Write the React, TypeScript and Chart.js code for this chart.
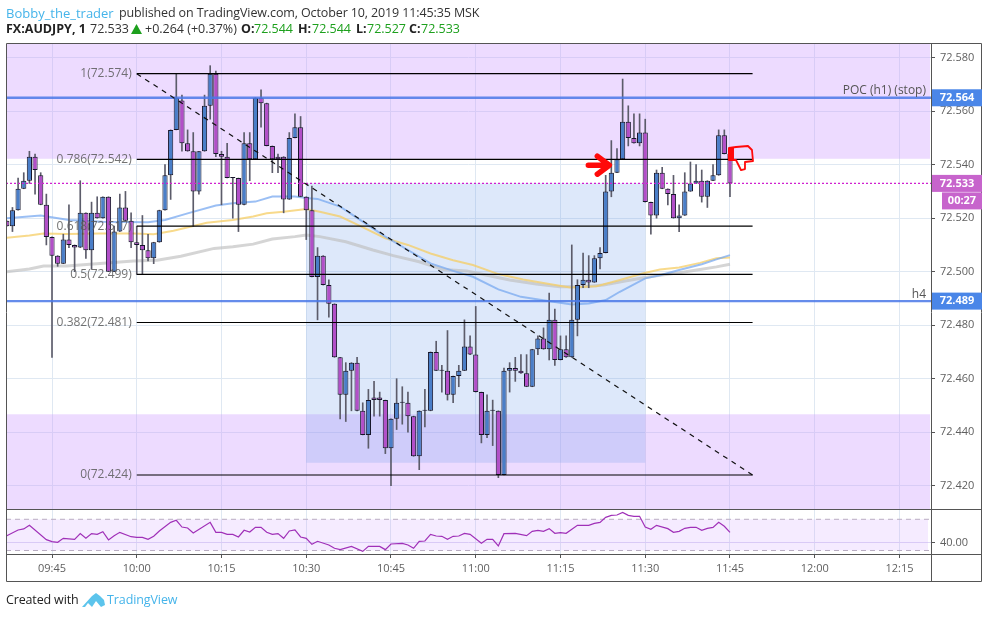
import React, { useEffect, useRef } from "react";
import { Chart, registerables } from "chart.js";

Chart.register(...registerables);

const FONT = "'Open Sans', 'Noto Sans', sans-serif";

// One-minute candles, first at 09:37; prices are 72 + value / 1000
const firstCandleMinute = 577;
const opensMilli = [519,517,523,531,534,543,536,525,513,506,503,512,510,509,522,508,522,520,528,500,515,524,519,511,510,508,505,511,523,536,553,564,548,545,530,545,562,574,544,543,535,535,525,548,542,565,563,547,543,543,527,550,554,528,523,498,506,495,488,468,454,463,466,448,439,453,453,452,434,445,451,451,446,431,448,448,470,463,463,454,461,463,472,469,455,439,448,448,424,463,464,463,462,457,471,475,471,482,467,471,468,482,495,497,496,505,507,530,537,542,556,550,548,552,526,521,537,531,529,520,521,530,533,534,528,534,536,551,544];
const highsMilli = [519,524,535,537,545,544,537,529,513,506,514,525,510,534,522,526,528,528,528,517,529,530,522,517,521,514,511,523,540,553,574,566,553,552,545,566,577,575,545,548,535,535,552,552,565,568,563,547,544,543,552,559,558,528,532,509,506,497,488,468,466,466,468,451,456,459,455,452,445,460,457,455,446,448,456,470,474,465,478,461,465,482,476,487,455,454,452,448,464,466,468,469,469,471,476,479,492,486,476,476,510,497,507,506,506,509,536,549,546,572,562,559,559,557,526,538,539,531,536,525,537,541,540,538,534,540,553,553,544];
const lowsMilli = [517,515,523,531,533,529,525,510,468,502,503,509,500,509,505,501,520,520,500,500,515,519,509,499,499,504,503,511,523,527,553,545,545,517,529,545,557,543,525,535,520,515,525,534,542,554,547,537,537,522,527,550,528,512,498,482,495,483,468,445,444,448,448,439,434,446,446,432,420,441,443,440,431,426,442,448,463,455,452,451,457,463,469,455,436,438,435,423,424,455,459,462,457,457,469,471,467,465,467,468,468,476,494,494,496,501,507,528,537,542,547,548,547,526,514,520,531,525,520,515,521,530,533,526,524,534,536,544,528];
const closesMilli = [517,523,531,534,543,538,525,513,506,503,512,510,509,522,508,522,520,528,500,515,524,519,511,510,508,505,511,523,536,553,565,548,545,530,545,562,574,544,543,535,535,525,548,542,565,563,547,542,542,527,550,554,528,523,498,506,495,488,468,454,463,466,448,439,452,452,452,434,445,451,451,446,431,448,448,470,463,463,454,461,463,472,469,455,439,448,448,424,463,464,463,462,457,471,475,471,482,467,471,468,482,495,497,496,505,507,530,537,542,556,550,548,552,526,521,537,531,529,520,521,530,533,534,528,534,536,551,544,533];

// Moving averages: minute, price
const maBlueMinutes = [577,583,588,594,602,605,609,614,617,621,624,628,630,632,636,640,644,648,652,656,659.5,664,668,672.5,677,680,683,685.5,690,692.6,696,700,702.6,705];
const maBluePrices = [72.52,72.521,72.5193,72.5187,72.5185,72.5193,72.5218,72.5247,72.5256,72.5262,72.5281,72.5281,72.5275,72.5272,72.5243,72.5187,72.5131,72.5081,72.5031,72.5003,72.4981,72.4934,72.4906,72.4891,72.4877,72.4881,72.4894,72.4925,72.4975,72.4987,72.5006,72.5028,72.5046,72.5062];
const maYellowMinutes = [577,581,583.5,587.6,593.5,599.4,603,606.5,612.4,617,620.6,623,626,630,632.4,636,639.5,644,648,652,656,659.5,664,668.4,672.5,676.7,681.4,685.5,689.7,692.6,696,699.7,702.6,705];
const maYellowPrices = [72.5127,72.5135,72.5143,72.5141,72.5143,72.5143,72.514,72.5153,72.5183,72.5193,72.5206,72.5218,72.5224,72.5234,72.5224,72.5206,72.5171,72.5125,72.51,72.5068,72.5043,72.5025,72.4991,72.4971,72.4956,72.4941,72.4946,72.4969,72.4994,72.5008,72.5016,72.5033,72.505,72.5053];
const maGrayMinutes = [577,581,583.5,587.6,593.5,599.4,603.6,607.8,613.7,617,620.6,624,628,630,632.4,637,641.8,645.4,650,654.2,658.4,662,666,670.7,674.9,679,682.6,686.7,690.3,692.6,696,699.7,702.6,705];
const maGrayPrices = [72.5,72.501,72.5021,72.5021,72.5031,72.504,72.5043,72.5058,72.5087,72.5093,72.5103,72.5122,72.5131,72.5137,72.5131,72.5112,72.5081,72.506,72.5037,72.5008,72.5003,72.4987,72.4969,72.4954,72.4944,72.4944,72.495,72.4966,72.4979,72.4987,72.4996,72.5008,72.5018,72.5028];

// RSI study
const rsiMinutes = [577,579,580,581,584,585,586,587,589,590,591,592,593,594,595,596,597,599,600,601,602,603,604,606,607,608,609,610,613,614,615,616,617,618,619,620,621,622,623,624,625,626,627,628,629,630,631,632,634,635,636,638,640,641,643,644,645,647,648,649,650,651,652,653,654,655,656,657,658,659,661,662,663,664,665,667,669,670,671,672,673,674,675,676,678,680,681,682,683,684,685,686,687,688,689,690,691,692,694,695,696,697,698,699,700,701,702,703,704,705];
const rsiValues = [49,56.3,57.6,62.3,43.9,41.3,40.5,45.6,44.3,51.6,45.6,51.6,50.7,54.1,43.5,49,53.3,47.7,46.9,46.9,44.3,48.2,55,66.1,68.7,60.1,58.8,52.4,66.1,53.3,53.3,50.7,50.7,47.3,55.9,53.7,59.7,59.7,53.3,50.7,51.6,45.6,55,56.3,47.3,45.6,37.9,41.8,37.1,32.8,31.1,35.3,28.9,35.3,35.3,31.1,38.3,39.2,37.1,32.8,41.8,42.2,50.7,48.6,48.2,44.3,48.2,48.6,52,50.7,39.2,44.3,44.3,35.8,51.6,52,49,54.6,55.9,54.6,58,52,52.9,52,62.3,62.3,64.8,66.1,72.5,75.1,75.5,78.9,75.1,73.8,73.8,60.1,57.1,62.3,58,53.3,54.6,58.4,59.7,59.7,55.9,58.4,59.7,66.1,61,53.3];
const rsiBands = [30, 70];

// Fibonacci retracement
const fibStartMinute = 600;
const fibEndMinute = 709;
const fibRatios = ["1", "0.786", "0.618", "0.5", "0.382", "0"];
const fibPrices = [72.574, 72.542, 72.517, 72.499, 72.481, 72.424];

// Levels and zones
const levelPrices = [72.565, 72.489];
const levelTags = ["72.564", "72.489"];
const levelNames = ["POC (h1) (stop)", "h4"];
const lastPrice = 72.533;
const lastTag = "72.533";
const countdown = "00:27";
const upperZoneBottom = 72.5422;
const lowerZoneTop = 72.4467;
const positionBox = { from: 630, to: 690, top: 72.533, bottom: 72.4286 };

const X_MIN = 576.858;
const X_MAX = 740.58;
const BLUE = "#4a7ec8";
const PURPLE = "#b24fc8";

const hhmm = (m: number) =>
  `${String(Math.floor(m / 60)).padStart(2, "0")}:${String(m % 60).padStart(2, "0")}`;
const price = (v: number) => 72 + v / 1000;
const pairs = (xs: number[], ys: number[]) => xs.map((x, i) => ({ x, y: ys[i] }));

const overlayPlugin = {
  id: "overlay",
  beforeDatasetsDraw(chart: any) {
    const { ctx, scales } = chart;
    const X = scales.x, Y = scales.y, R = scales.yRsi;
    const zoneRight = X.right - 1;
    ctx.save();
    ctx.fillStyle = "rgba(204,153,255,0.35)";
    ctx.fillRect(X.left, Y.top, zoneRight - X.left, Y.getPixelForValue(upperZoneBottom) - Y.top);
    const lz = Y.getPixelForValue(lowerZoneTop);
    ctx.fillRect(X.left, lz, zoneRight - X.left, Y.bottom - lz);
    const bx = X.getPixelForValue(positionBox.from);
    const bw = X.getPixelForValue(positionBox.to) - bx;
    const by = Y.getPixelForValue(positionBox.top);
    ctx.fillStyle = "rgba(100,150,232,0.22)";
    ctx.fillRect(bx, by, bw, Y.getPixelForValue(positionBox.bottom) - by);
    const r1 = R.getPixelForValue(rsiBands[1]);
    const r0 = R.getPixelForValue(rsiBands[0]);
    ctx.fillStyle = "rgba(204,153,255,0.2)";
    ctx.fillRect(X.left, r1, zoneRight - 2 - X.left, r0 - r1);
    ctx.restore();
  },
  afterDatasetsDraw(chart: any) {
    const { ctx, scales } = chart;
    const X = scales.x, Y = scales.y;
    ctx.save();
    // Fibonacci captions
    ctx.font = `12px ${FONT}`;
    ctx.fillStyle = "rgba(90,90,90,0.85)";
    ctx.textAlign = "right";
    ctx.textBaseline = "middle";
    const labelX = X.getPixelForValue(fibStartMinute) - 5;
    fibRatios.forEach((r, i) => {
      ctx.fillText(`${r}(${fibPrices[i].toFixed(3)})`, labelX, Y.getPixelForValue(fibPrices[i]));
    });
    // Level captions
    ctx.fillStyle = "#555";
    ctx.font = `12px ${FONT}`;
    levelNames.forEach((n, i) => {
      ctx.fillText(n, X.right - 5, Y.getPixelForValue(levelPrices[i]) - 7);
    });

    // Red arrow, anchored on the candle it points at
    const ax = X.getPixelForValue(684) - 2;
    const ay = Y.getPixelForValue(72.5398);
    ctx.strokeStyle = "#ff0a0a";
    ctx.lineCap = "round";
    ctx.lineJoin = "round";
    ctx.lineWidth = 5.5;
    ctx.beginPath();
    ctx.moveTo(ax - 21, ay);
    ctx.lineTo(ax - 1, ay);
    ctx.moveTo(ax - 12, ay - 9);
    ctx.lineTo(ax, ay);
    ctx.lineTo(ax - 12, ay + 9);
    ctx.stroke();

    // Red thumb-down sketch
    const tx = X.getPixelForValue(705) - 2;
    const ty = Y.getPixelForValue(72.5466);
    const thumb = [[1,1],[8,0],[20,-1],[24,3],[25,14],[17,15],[17,22],[13,23],[8,13],[1,13]];
    ctx.lineWidth = 1.8;
    ctx.beginPath();
    thumb.forEach(([a, b], i) => (i ? ctx.lineTo(tx + a, ty + b) : ctx.moveTo(tx + a, ty + b)));
    ctx.closePath();
    ctx.stroke();
    ctx.fillStyle = "#ff0a0a";
    ctx.fillRect(tx, ty + 1, 6, 12);
    ctx.restore();
  },
  afterDraw(chart: any) {
    const { ctx, scales, chartArea } = chart;
    const Y = scales.y, X = scales.x;
    ctx.save();
    const right = 981.5;
    ctx.strokeStyle = "#555";
    ctx.lineWidth = 1;
    ctx.beginPath();
    ctx.rect(6.5, 43.5, right - 6.5, 538);
    ctx.moveTo(X.right + 0.5, 43.5);
    ctx.lineTo(X.right + 0.5, 581.5);
    ctx.moveTo(6.5, Y.bottom + 0.5);
    ctx.lineTo(right, Y.bottom + 0.5);
    ctx.moveTo(6.5, chartArea.bottom + 0.5);
    ctx.lineTo(right, chartArea.bottom + 0.5);
    ctx.stroke();

    const tag = (text: string, py: number, fill: string, left: number, w: number, h: number) => {
      ctx.fillStyle = fill;
      ctx.fillRect(left, py - h / 2, w, h);
      ctx.fillStyle = "#fff";
      ctx.font = `bold 11px ${FONT}`;
      ctx.textAlign = "center";
      ctx.textBaseline = "middle";
      ctx.fillText(text, left + w / 2, py);
    };
    const ax = X.right + 1;
    levelTags.forEach((t, i) => tag(t, Y.getPixelForValue(levelPrices[i]), "#4a86e8", ax, 50, 17));
    const lp = Y.getPixelForValue(lastPrice);
    tag(lastTag, lp, "#c764cc", ax, 50, 17);
    tag(countdown, lp + 17.5, "#c764cc", ax + 10, 40, 17);
    ctx.restore();
  },
};

export default function App() {
  const ref = useRef<HTMLCanvasElement | null>(null);

  useEffect(() => {
    const times = opensMilli.map((_, i) => firstCandleMinute + i);
    const bodyColors = opensMilli.map((o, i) => (closesMilli[i] >= o ? BLUE : PURPLE));

    const lineBase = { type: "line", pointRadius: 0, xAxisID: "x", parsing: true };
    const fibSets = fibPrices.map((p, i) => ({
      ...lineBase,
      label: `Fib ${fibRatios[i]}`,
      data: pairs([fibStartMinute, fibEndMinute], [p, p]),
      borderColor: "#000",
      borderWidth: 1.2,
      yAxisID: "y",
      order: 1,
    }));
    const levelSets = levelPrices.map((p, i) => ({
      ...lineBase,
      label: levelNames[i],
      data: pairs([X_MIN, X_MAX], [p, p]),
      borderColor: "rgba(74,120,232,0.85)",
      borderWidth: 2.4,
      yAxisID: "y",
      order: 2,
    }));
    const bandSets = rsiBands.map((b) => ({
      ...lineBase,
      label: `Band ${b}`,
      data: pairs([X_MIN, X_MAX - 0.3], [b, b]),
      borderColor: "#b9adc2",
      borderWidth: 1,
      borderDash: [5, 4],
      yAxisID: "yRsi",
      order: 6,
    }));

    const chart = new Chart(ref.current as HTMLCanvasElement, {
      type: "bar",
      plugins: [overlayPlugin],
      data: {
        datasets: [
          ...fibSets,
          {
            ...lineBase,
            label: "Fib trend",
            data: pairs([fibStartMinute, fibEndMinute], [fibPrices[0], fibPrices[5]]),
            borderColor: "#111",
            borderWidth: 1.2,
            borderDash: [5, 5],
            yAxisID: "y",
            order: 1,
          },
          ...levelSets,
          {
            ...lineBase,
            label: "Last",
            data: pairs([X_MIN, X_MAX], [lastPrice, lastPrice]),
            borderColor: "#d020d0",
            borderWidth: 1.4,
            borderDash: [2, 2],
            yAxisID: "y",
            order: 2,
          },
          {
            type: "bar",
            label: "Bodies",
            data: times.map((t, i) => ({ x: t, y: [price(opensMilli[i]), price(closesMilli[i])] })),
            backgroundColor: bodyColors,
            borderColor: "#16162a",
            borderWidth: 1,
            borderSkipped: false,
            barThickness: 5.2,
            inflateAmount: 0,
            minBarLength: 1,
            grouped: false,
            xAxisID: "x",
            yAxisID: "y",
            order: 3,
          },
          {
            type: "bar",
            label: "Wicks",
            data: times.map((t, i) => ({ x: t, y: [price(lowsMilli[i]), price(highsMilli[i])] })),
            backgroundColor: "#5c5c6a",
            borderWidth: 0,
            barThickness: 1,
            grouped: false,
            xAxisID: "x",
            yAxisID: "y",
            order: 4,
          },
          {
            ...lineBase,
            label: "MA blue",
            data: pairs(maBlueMinutes, maBluePrices),
            borderColor: "rgba(122,170,240,0.75)",
            borderWidth: 2,
            yAxisID: "y",
            order: 5,
          },
          {
            ...lineBase,
            label: "MA yellow",
            data: pairs(maYellowMinutes, maYellowPrices),
            borderColor: "rgba(245,205,100,0.75)",
            borderWidth: 2,
            yAxisID: "y",
            order: 5,
          },
          {
            ...lineBase,
            label: "MA gray",
            data: pairs(maGrayMinutes, maGrayPrices),
            borderColor: "rgba(190,190,190,0.65)",
            borderWidth: 3,
            yAxisID: "y",
            order: 5,
          },
          ...bandSets,
          {
            ...lineBase,
            label: "RSI",
            data: pairs(rsiMinutes, rsiValues),
            borderColor: "#a030b8",
            borderWidth: 1.2,
            yAxisID: "yRsi",
            order: 1,
          },
        ] as any,
      },
      options: {
        animation: false,
        responsive: false,
        maintainAspectRatio: false,
        layout: { padding: { left: 6, top: 44, right: 7, bottom: 37 } },
        plugins: { legend: { display: false }, tooltip: { enabled: false } },
        scales: {
          x: {
            type: "linear",
            position: "bottom",
            offset: false,
            min: X_MIN,
            max: X_MAX,
            afterFit: (s: any) => {
              s.height = 27;
            },
            border: { display: false },
            grid: { color: "#dfe8f2", tickColor: "#555", tickLength: 4, offset: false },
            ticks: {
              stepSize: 15,
              includeBounds: false,
              autoSkip: false,
              maxRotation: 0,
              padding: 4,
              color: "#5f5f5f",
              font: { family: FONT, size: 11 },
              callback: (v: any) => hhmm(Number(v)),
            },
          },
          y: {
            type: "linear",
            axis: "y",
            position: "right",
            stack: "panes",
            stackWeight: 465,
            min: 72.4113,
            max: 72.5851,
            afterFit: (s: any) => {
              s.width = 50;
            },
            border: { display: false },
            grid: { color: "#dfe8f2", tickColor: "#555", tickLength: 4 },
            ticks: {
              stepSize: 0.02,
              includeBounds: false,
              autoSkip: false,
              padding: 5,
              color: "#5f5f5f",
              font: { family: FONT, size: 11 },
              callback: (v: any) => Number(v).toFixed(3),
            },
          },
          yRsi: {
            type: "linear",
            axis: "y",
            position: "right",
            stack: "panes",
            stackWeight: 45,
            min: 25.5,
            max: 83.2,
            afterFit: (s: any) => {
              s.width = 50;
            },
            afterBuildTicks: (s: any) => {
              s.ticks = [{ value: 40 }];
            },
            border: { display: false },
            grid: { color: "#dcd6f4", tickColor: "#555", tickLength: 4 },
            ticks: {
              padding: 5,
              color: "#5f5f5f",
              font: { family: FONT, size: 11 },
              callback: (v: any) => Number(v).toFixed(2),
            },
          },
        },
      } as any,
    });
    return () => chart.destroy();
  }, []);

  const at = (left: number, top: number, extra: React.CSSProperties = {}): React.CSSProperties => ({
    position: "absolute",
    left,
    top,
    whiteSpace: "nowrap",
    lineHeight: "16px",
    ...extra,
  });
  const green = { color: "#1da01d" };
  const bold = { fontWeight: 700, color: "#222" };

  return (
    <div
      style={{
        position: "fixed",
        left: 0,
        top: 0,
        width: 988,
        height: 618,
        background: "#fff",
        fontFamily: FONT,
        fontSize: 12.5,
        color: "#333",
      }}
    >
      <canvas ref={ref} width={988} height={618} style={{ position: "absolute", left: 0, top: 0, display: "block" }} />
      <span style={at(6, 5, { color: "#45b4ea", fontSize: 13 })}>Bobby_the_trader</span>
      <span style={at(119, 5, { letterSpacing: -0.12 })}>published on TradingView.com, October 10, 2019 11:45:35 MSK</span>
      <span style={at(6, 21, bold)}>FX:AUDJPY, 1</span>
      <span style={at(90, 21)}>72.533</span>
      <svg width="11" height="10" style={{ position: "absolute", left: 131, top: 24 }}>
        <polygon points="5.5,0 11,10 0,10" fill="#1da01d" />
      </svg>
      <span style={at(145, 21)}>+0.264 (+0.37%)</span>
      <span style={at(241, 21, bold)}>O:</span>
      <span style={at(254, 21, green)}>72.544</span>
      <span style={at(298, 21, bold)}>H:</span>
      <span style={at(312, 21, green)}>72.544</span>
      <span style={at(356, 21, bold)}>L:</span>
      <span style={at(367, 21, green)}>72.527</span>
      <span style={at(409, 21, bold)}>C:</span>
      <span style={at(421, 21, green)}>72.533</span>
      <span style={at(6, 592, { color: "#222", letterSpacing: -0.15 })}>Created with</span>
      <svg width="25" height="16" style={{ position: "absolute", left: 81, top: 592 }}>
        <polygon
          points="1,15 11,4 15,1 19,4 23,8 24,13 20,15 15,9 11,15 7,11 4,15"
          fill="#5cc4ec"
        />
      </svg>
      <span style={at(107, 592, { color: "#45b4ea", letterSpacing: -0.1 })}>TradingView</span>
    </div>
  );
}
